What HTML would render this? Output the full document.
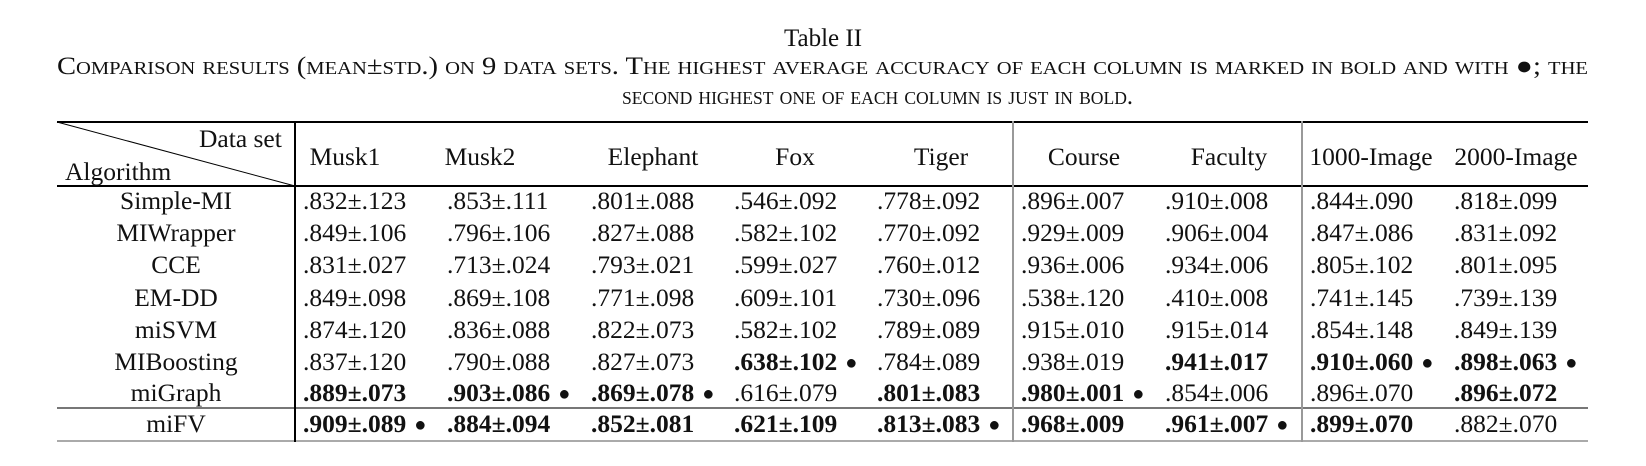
<!DOCTYPE html>
<html><head><meta charset="utf-8">
<style>
body{margin:0;width:1646px;height:466px;background:#fff;overflow:hidden;font-family:"Liberation Serif",serif;color:#111;position:relative}
.a{position:absolute;white-space:nowrap;line-height:1}
.t{font-size:25.5px}
.c{transform:translateX(-50%)}
.b{font-weight:bold}
.h{position:absolute;height:1.6px}
.v{position:absolute;width:1.6px}
.dot{font-size:20px;vertical-align:1px;margin-left:8px;font-weight:normal}
.cap{font-size:25px;font-variant:small-caps;transform-origin:0 0}
</style></head><body>
<div class="a c" style="left:823px;top:26px;font-size:25px">Table II</div>
<div class="a cap" id="cap1" style="left:57px;top:54px">Comparison results (mean±std.) on 9 data sets. The highest average accuracy of each column is marked in bold and with ●; the</div>
<div class="a cap" id="cap2" style="left:622px;top:84px">second highest one of each column is just in bold.</div>

<div class="h" style="left:57px;width:1531px;top:121px;background:#000"></div>
<div class="h" style="left:57px;width:1531px;top:185px;background:#000"></div>
<div class="h" style="left:57px;width:1531px;top:407px;background:#777"></div>
<div class="h" style="left:57px;width:1531px;top:440px;height:2px;background:#aaa"></div>
<div class="v" style="left:294px;top:121px;height:321px;background:#000"></div>
<div class="v" style="left:1012px;top:121px;height:321px;background:#999"></div>
<div class="v" style="left:1301px;top:121px;height:321px;background:#999"></div>
<svg style="position:absolute;left:0;top:0" width="1646" height="466"><line x1="57" y1="122" x2="295" y2="186" stroke="#000" stroke-width="1"/></svg>
<div class="a t" style="left:199px;top:126px">Data set</div>
<div class="a t" style="left:65px;top:159px">Algorithm</div>
<div id="tbl"></div>
<script>
const datasets=["Musk1","Musk2","Elephant","Fox","Tiger","Course","Faculty","1000-Image","2000-Image"];
const algorithms=["Simple-MI","MIWrapper","CCE","EM-DD","miSVM","MIBoosting","miGraph","miFV"];
const values=[
[".832±.123",".853±.111",".801±.088",".546±.092",".778±.092",".896±.007",".910±.008",".844±.090",".818±.099"],
[".849±.106",".796±.106",".827±.088",".582±.102",".770±.092",".929±.009",".906±.004",".847±.086",".831±.092"],
[".831±.027",".713±.024",".793±.021",".599±.027",".760±.012",".936±.006",".934±.006",".805±.102",".801±.095"],
[".849±.098",".869±.108",".771±.098",".609±.101",".730±.096",".538±.120",".410±.008",".741±.145",".739±.139"],
[".874±.120",".836±.088",".822±.073",".582±.102",".789±.089",".915±.010",".915±.014",".854±.148",".849±.139"],
[".837±.120",".790±.088",".827±.073",".638±.102",".784±.089",".938±.019",".941±.017",".910±.060",".898±.063"],
[".889±.073",".903±.086",".869±.078",".616±.079",".801±.083",".980±.001",".854±.006",".896±.070",".896±.072"],
[".909±.089",".884±.094",".852±.081",".621±.109",".813±.083",".968±.009",".961±.007",".899±.070",".882±.070"]];
// 0 normal, 1 bold, 2 bold + bullet
const marks=[
[0,0,0,0,0,0,0,0,0],[0,0,0,0,0,0,0,0,0],[0,0,0,0,0,0,0,0,0],[0,0,0,0,0,0,0,0,0],
[0,0,0,0,0,0,0,0,0],[0,0,0,2,0,0,1,2,2],[1,2,2,0,1,2,0,0,1],[2,1,1,1,2,1,2,1,0]];
const colStart=[303,447,591,734,877,1021,1165,1310,1454];
const headCenter=[345,480,653,795,941,1084,1229,1371,1516];
const rowY=[188,220,252,285,317,349,380,411];
const root=document.getElementById('tbl');
datasets.forEach((d,j)=>{
  const e=document.createElement('div');
  e.className='a t c';e.style.left=headCenter[j]+'px';e.style.top='144px';e.textContent=d;
  
  
  root.appendChild(e);
});
algorithms.forEach((a,i)=>{
  const e=document.createElement('div');
  e.className='a t c';e.style.left='176px';e.style.top=rowY[i]+'px';e.textContent=a;
  
  
  root.appendChild(e);
  values[i].forEach((v,j)=>{
    const c=document.createElement('div');
    c.className='a t'+(marks[i][j]?' b':'');
    c.style.left=colStart[j]+'px';c.style.top=rowY[i]+'px';
    c.textContent=v;
    if(marks[i][j]==2){const s=document.createElement('span');s.className='dot';s.textContent='●';c.appendChild(s);}
    
    
    root.appendChild(c);
  });
});
function fit(id,w){const el=document.getElementById(id);const r=el.getBoundingClientRect().width;el.style.transform='scaleX('+(w/r)+')';}
fit('cap1',1531);fit('cap2',511);
</script>
</body></html>
